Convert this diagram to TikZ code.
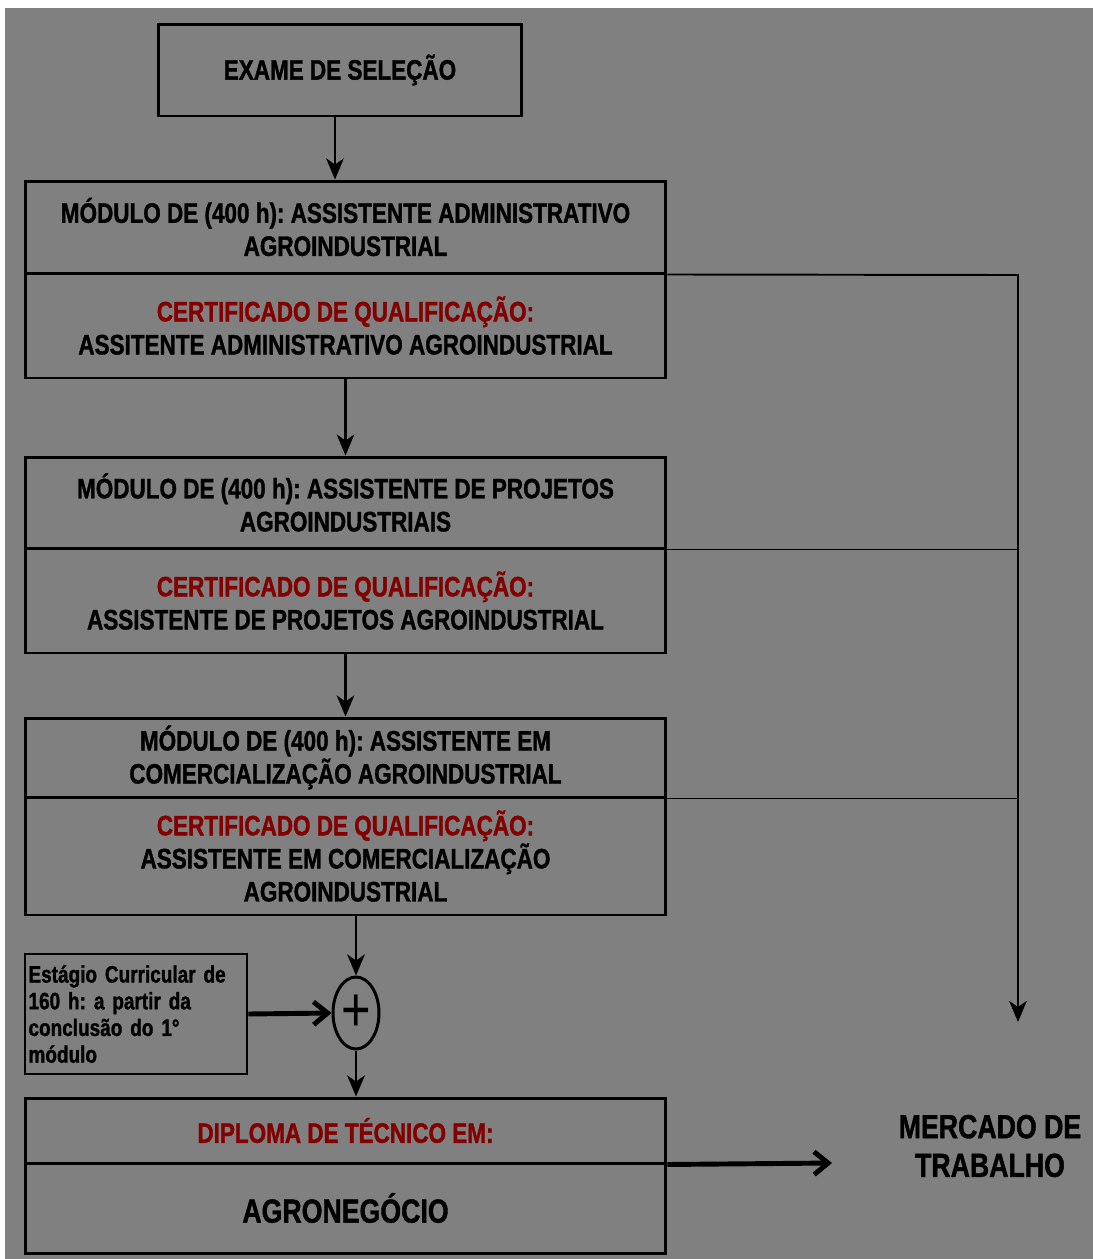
\documentclass[tikz,border=0pt]{standalone}
\usepackage{fontspec}
\setmainfont{Liberation Sans}[FakeStretch=0.8,BoldFeatures={FakeBold=1.2}]
\usetikzlibrary{positioning,calc,arrows.meta,shapes.geometric}
\usepackage{xcolor}
\definecolor{bggray}{RGB}{128,128,128}
\definecolor{certred}{RGB}{130,0,0}
\frenchspacing

\begin{document}
\begin{tikzpicture}[x=0.02cm,y=-0.02cm,
part/.style={draw,line width=1.7pt,minimum width=12.82cm,inner sep=0pt,align=center,
  font=\fontsize{16}{18.8}\selectfont\bfseries},
edge/.style={line width=1.6pt,-{Stealth[length=12pt,width=10pt,inset=3.5pt]}},
bigedge/.style={line width=2.8pt,-{Straight Barb[length=8pt,width=13pt]}},
rail/.style={line width=1.1pt}]

% background
\useasboundingbox (0,0) rectangle (1093,1259);
\fill[white] (0,0) rectangle (1093,1259);
\fill[bggray] (5,8) rectangle (1093,1259);

% nodes
\node[part,minimum width=7.28cm,minimum height=1.84cm](exame) at (340,70){EXAME DE SELEÇÃO};

\node[part,minimum height=1.84cm](m1a) at (345.5,227){MÓDULO DE (400 h): ASSISTENTE ADMINISTRATIVO\\AGROINDUSTRIAL};
\node[part,minimum height=2.1cm](m1b) at (345.5,325.5){\textcolor{certred}{CERTIFICADO DE QUALIFICAÇÃO:}\\ASSITENTE ADMINISTRATIVO AGROINDUSTRIAL};

\node[part,minimum height=1.82cm](m2a) at (345.5,502.5){MÓDULO DE (400 h): ASSISTENTE DE PROJETOS\\AGROINDUSTRIAIS};
\node[part,minimum height=2.1cm](m2b) at (345.5,600.5){\textcolor{certred}{CERTIFICADO DE QUALIFICAÇÃO:}\\ASSISTENTE DE PROJETOS AGROINDUSTRIAL};

\node[part,minimum height=1.58cm](m3a) at (345.5,757.5){MÓDULO DE (400 h): ASSISTENTE EM\\COMERCIALIZAÇÃO AGROINDUSTRIAL};
\node[part,minimum height=2.36cm](m3b) at (345.5,856){\textcolor{certred}{CERTIFICADO DE QUALIFICAÇÃO:}\\ASSISTENTE EM COMERCIALIZAÇÃO\\AGROINDUSTRIAL};

\node[ellipse,draw,line width=1.7pt,minimum width=0.92cm,minimum height=1.44cm,inner sep=0pt](plus) at (356,1013){\fontsize{36}{36}\selectfont +};

\node[draw,line width=1.5pt,minimum width=4.44cm,minimum height=2.4cm,text width=4.3cm,inner sep=2pt,align=left,
  font=\fontsize{13.5}{15.2}\selectfont\bfseries](estagio) at (136,1014){Estágio Curricular de\\160 h: a partir da\\conclusão do 1°\\módulo};

\node[part,minimum height=1.3cm](dipa) at (345.5,1130.5){\textcolor{certred}{DIPLOMA DE TÉCNICO EM:}};
\node[part,minimum height=1.8cm,font=\fontsize{19}{22}\selectfont\bfseries](dipb) at (345.5,1208){AGRONEGÓCIO};

\node[align=center,font=\fontsize{19}{22}\selectfont\bfseries](mercado) at (990,1146){MERCADO DE\\TRABALHO};

% hidden coordinates
\coordinate (railtop) at (1018,275);
\coordinate (railend) at (1018,1022);
\coordinate (mktin) at (832,1163);

% connectors
\draw[edge] (exame.south -| 335,0) -- (m1a.north -| 335,0);
\draw[edge] (m1b.south) -- (m2a.north);
\draw[edge] (m2b.south) -- (m3a.north);
\draw[edge] (plus |- m3b.south) -- (plus.north);
\draw[edge] (plus.south) -- (plus |- dipa.north);
\draw[bigedge] (estagio.east) -- (plus.west);
\draw[bigedge] (dipa.south east) -- (mktin);

\draw[rail,-{Stealth[length=12pt,width=10pt,inset=3.5pt]}] (m1a.south east) -- (railtop) -- (railend);
\draw[rail] (m2a.south east) -- (m2a.south east -| railtop);
\draw[rail] (m3a.south east) -- (m3a.south east -| railtop);

\end{tikzpicture}
\end{document}
